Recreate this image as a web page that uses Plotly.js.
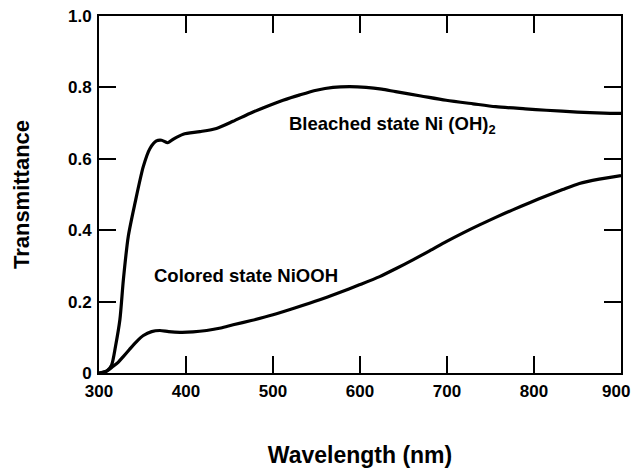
<!DOCTYPE html>
<html>
<head>
<meta charset="utf-8">
<script src="https://cdn.plot.ly/plotly-3.0.1.min.js"></script>
<style>html,body{margin:0;padding:0;background:#fff;}#chart{width:633px;height:468px;}</style>
</head>
<body>
<div id="chart"></div>
<script>
const bleachedWl = [300, 306, 310, 314.6, 319, 324, 328, 333.6, 341.3, 350.9, 358.6, 366, 372, 379, 386, 396.8, 416, 435, 454, 473.3, 492, 511.6, 531, 549.9, 569, 588, 607, 625, 641, 670, 699, 730, 756, 790, 814, 850, 880, 900];
const bleachedT  = [0, 0.003, 0.008, 0.023, 0.075, 0.149, 0.261, 0.382, 0.475, 0.578, 0.629, 0.65, 0.652, 0.645, 0.656, 0.669, 0.676, 0.685, 0.705, 0.727, 0.746, 0.764, 0.779, 0.792, 0.80, 0.802, 0.80, 0.795, 0.788, 0.776, 0.764, 0.754, 0.746, 0.74, 0.736, 0.731, 0.728, 0.727];

const coloredWl = [300, 308, 316.4, 322, 327.9, 335, 343.2, 351, 360.5, 370, 380, 393, 408, 423.7, 440, 454.2, 475, 500, 525, 553.7, 575, 599.3, 622.6, 641, 660.8, 680, 699.1, 718, 737.4, 756, 775.6, 795, 813.9, 833, 852.2, 875, 900];
const coloredT  = [0, 0.004, 0.019, 0.03, 0.046, 0.066, 0.088, 0.105, 0.116, 0.119, 0.116, 0.114, 0.115, 0.119, 0.126, 0.135, 0.147, 0.163, 0.182, 0.205, 0.224, 0.247, 0.27, 0.292, 0.317, 0.342, 0.368, 0.392, 0.415, 0.436, 0.457, 0.477, 0.496, 0.514, 0.531, 0.543, 0.553];

const xTicks = [300, 400, 500, 600, 700, 800, 900];
const xTickText = ["300", "400", "500", "600", "700", "800", "900\u00a0\u00a0"];
const yTicks = [0, 0.2, 0.4, 0.6, 0.8, 1.0];
const yTickText = ["0", "0.2", "0.4", "0.6", "0.8", "1.0"];

const labelBleached = "Bleached state Ni (OH)<sub>2</sub>";
const labelColored = "Colored state NiOOH";

const FONT = "Liberation Sans, Arial, Helvetica, sans-serif";

const traces = [
  {x: bleachedWl, y: bleachedT, mode: "lines", line: {color: "#000", width: 3.2, shape: "spline", smoothing: 0.7}, hoverinfo: "skip"},
  {x: coloredWl, y: coloredT, mode: "lines", line: {color: "#000", width: 3.2, shape: "spline", smoothing: 0.7}, hoverinfo: "skip"}
];

const axisCommon = {
  showgrid: false, zeroline: false, showline: true, linecolor: "#000", linewidth: 2,
  mirror: "allticks", ticks: "inside", ticklen: 17, tickwidth: 2, tickcolor: "#000",
  ticklabeloverflow: "allow",
  tickfont: {family: FONT, size: 17, color: "#000", weight: "bold"}
};

const layout = {
  width: 633, height: 468,
  margin: {l: 99, r: 12, t: 16, b: 95},
  paper_bgcolor: "#fff", plot_bgcolor: "#fff",
  showlegend: false,
  xaxis: Object.assign({}, axisCommon, {
    range: [300, 900], tickvals: xTicks, ticktext: xTickText,
    ticklabelstandoff: 2,
    title: {text: "<b>Wavelength (nm)</b>", font: {family: FONT, size: 23, color: "#000"}, standoff: 48}
  }),
  yaxis: Object.assign({}, axisCommon, {
    range: [0, 1.0], tickvals: yTicks, ticktext: yTickText,
    ticklabelstandoff: 2,
    title: {text: "<b>Transmittance</b>", font: {family: FONT, size: 22, color: "#000"}, standoff: 32}
  }),
  annotations: [
    {x: 515.8, y: 0.694, xref: "x", yref: "y", text: "<b>" + labelBleached + "</b>", showarrow: false, xanchor: "left", yanchor: "middle", font: {family: FONT, size: 18.5, color: "#000"}},
    {x: 360.4, y: 0.272, xref: "x", yref: "y", text: "<b>" + labelColored + "</b>", showarrow: false, xanchor: "left", yanchor: "middle", font: {family: FONT, size: 18.5, color: "#000"}}
  ]
};

Plotly.newPlot("chart", traces, layout, {displayModeBar: false, staticPlot: true});
</script>
</body>
</html>
